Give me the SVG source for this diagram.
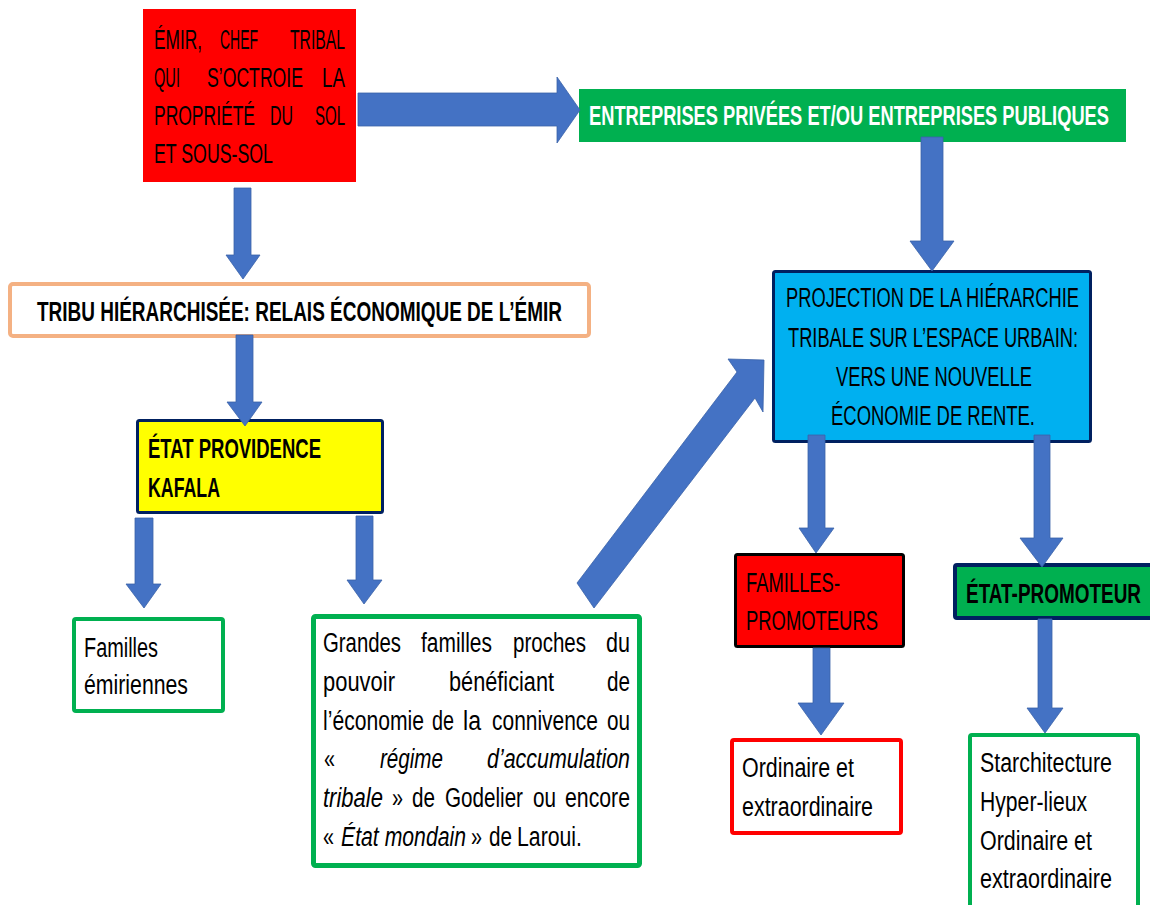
<svg xmlns="http://www.w3.org/2000/svg" width="1150" height="905" viewBox="0 0 1150 905">
<style>
text{font-family:"Liberation Sans",Arial,sans-serif;font-size:27px;fill:#000}
.b{font-weight:bold}
.w{fill:#fff}
.i{font-style:italic}
.arr{fill:#4472C4;stroke:#3A62A8;stroke-width:0.8}
</style>
<rect x="0" y="0" width="1150" height="905" fill="#fff"/>
<g id="emir">
<rect x="143" y="9" width="213" height="173" fill="#FF0000"/>
<text x="154" y="49" textLength="48" lengthAdjust="spacingAndGlyphs">ÉMIR,</text>
<text x="220" y="49" textLength="38" lengthAdjust="spacingAndGlyphs">CHEF</text>
<text x="290" y="49" textLength="55" lengthAdjust="spacingAndGlyphs">TRIBAL</text>
<text x="154" y="87" textLength="26" lengthAdjust="spacingAndGlyphs">QUI</text>
<text x="207" y="87" textLength="96" lengthAdjust="spacingAndGlyphs">S’OCTROIE</text>
<text x="322" y="87" textLength="23" lengthAdjust="spacingAndGlyphs">LA</text>
<text x="154" y="125" textLength="101" lengthAdjust="spacingAndGlyphs">PROPRIÉTÉ</text>
<text x="270" y="125" textLength="23" lengthAdjust="spacingAndGlyphs">DU</text>
<text x="315" y="125" textLength="30" lengthAdjust="spacingAndGlyphs">SOL</text>
<text x="154" y="163" textLength="119" lengthAdjust="spacingAndGlyphs">ET SOUS-SOL</text>
</g>
<g id="entreprises">
<rect x="579" y="89" width="547" height="53" fill="#00B050"/>
<text class="b w" x="589" y="125" textLength="520" lengthAdjust="spacingAndGlyphs">ENTREPRISES PRIVÉES ET/OU ENTREPRISES PUBLIQUES</text>
</g>
<g id="tribu">
<rect x="10" y="284" width="579" height="52" rx="3" fill="#fff" stroke="#F4B183" stroke-width="4"/>
<text class="b" x="37" y="321" textLength="525" lengthAdjust="spacingAndGlyphs">TRIBU HIÉRARCHISÉE: RELAIS ÉCONOMIQUE DE L’ÉMIR</text>
</g>
<g id="etat-providence">
<rect x="137.5" y="420.5" width="245" height="92" rx="2" fill="#FFFF00" stroke="#002060" stroke-width="3"/>
<text class="b" x="148" y="458" textLength="173" lengthAdjust="spacingAndGlyphs">ÉTAT PROVIDENCE</text>
<text class="b" x="148" y="497" textLength="72" lengthAdjust="spacingAndGlyphs">KAFALA</text>
</g>
<g id="projection">
<rect x="773.5" y="271.5" width="317" height="170" rx="2" fill="#00B0F0" stroke="#002060" stroke-width="3"/>
<text x="786" y="307" textLength="293" lengthAdjust="spacingAndGlyphs">PROJECTION DE LA HIÉRARCHIE</text>
<text x="788" y="347" textLength="290" lengthAdjust="spacingAndGlyphs">TRIBALE SUR L’ESPACE URBAIN:</text>
<text x="836" y="386" textLength="196" lengthAdjust="spacingAndGlyphs">VERS UNE NOUVELLE</text>
<text x="831" y="425" textLength="204" lengthAdjust="spacingAndGlyphs">ÉCONOMIE DE RENTE.</text>
</g>
<g id="familles-emiriennes">
<rect x="74" y="619" width="149" height="92" rx="2" fill="#fff" stroke="#00B050" stroke-width="4"/>
<text x="84" y="657" textLength="74" lengthAdjust="spacingAndGlyphs">Familles</text>
<text x="84" y="694" textLength="104" lengthAdjust="spacingAndGlyphs">émiriennes</text>
</g>
<g id="grandes-familles">
<rect x="313.5" y="616.5" width="326" height="249" rx="2" fill="#fff" stroke="#00B050" stroke-width="5"/>
<text x="323" y="652" textLength="78" lengthAdjust="spacingAndGlyphs">Grandes</text>
<text x="421" y="652" textLength="71" lengthAdjust="spacingAndGlyphs">familles</text>
<text x="513" y="652" textLength="73" lengthAdjust="spacingAndGlyphs">proches</text>
<text x="606" y="652" textLength="24" lengthAdjust="spacingAndGlyphs">du</text>
<text x="323" y="691" textLength="72" lengthAdjust="spacingAndGlyphs">pouvoir</text>
<text x="449" y="691" textLength="105" lengthAdjust="spacingAndGlyphs">bénéficiant</text>
<text x="607" y="691" textLength="23" lengthAdjust="spacingAndGlyphs">de</text>
<text x="323" y="730" textLength="101" lengthAdjust="spacingAndGlyphs">l’économie</text>
<text x="432" y="730" textLength="22" lengthAdjust="spacingAndGlyphs">de</text>
<text x="463" y="730" textLength="18" lengthAdjust="spacingAndGlyphs">la</text>
<text x="492" y="730" textLength="106" lengthAdjust="spacingAndGlyphs">connivence</text>
<text x="607" y="730" textLength="23" lengthAdjust="spacingAndGlyphs">ou</text>
<text x="324" y="768" textLength="11" lengthAdjust="spacingAndGlyphs">«</text>
<text class="i" x="380" y="768" textLength="63" lengthAdjust="spacingAndGlyphs">régime</text>
<text class="i" x="487" y="768" textLength="143" lengthAdjust="spacingAndGlyphs">d’accumulation</text>
<text class="i" x="323" y="807" textLength="60" lengthAdjust="spacingAndGlyphs">tribale</text>
<text x="392" y="807" textLength="11" lengthAdjust="spacingAndGlyphs">»</text>
<text x="412" y="807" textLength="23" lengthAdjust="spacingAndGlyphs">de</text>
<text x="445" y="807" textLength="78" lengthAdjust="spacingAndGlyphs">Godelier</text>
<text x="533" y="807" textLength="23" lengthAdjust="spacingAndGlyphs">ou</text>
<text x="565" y="807" textLength="65" lengthAdjust="spacingAndGlyphs">encore</text>
<text x="323" y="846" textLength="11" lengthAdjust="spacingAndGlyphs">«</text>
<text class="i" x="341" y="846" textLength="125" lengthAdjust="spacingAndGlyphs">État mondain</text>
<text x="471" y="846" textLength="11" lengthAdjust="spacingAndGlyphs">»</text>
<text x="489" y="846" textLength="23" lengthAdjust="spacingAndGlyphs">de</text>
<text x="517" y="846" textLength="65" lengthAdjust="spacingAndGlyphs">Laroui.</text>
</g>
<g id="familles-promoteurs">
<rect x="735.5" y="554.5" width="168" height="92" rx="2" fill="#FF0000" stroke="#000" stroke-width="3"/>
<text x="746" y="592" textLength="94" lengthAdjust="spacingAndGlyphs">FAMILLES-</text>
<text x="746" y="630" textLength="132" lengthAdjust="spacingAndGlyphs">PROMOTEURS</text>
</g>
<g id="ordinaire">
<rect x="732" y="740" width="169" height="93" rx="2" fill="#fff" stroke="#FF0000" stroke-width="4"/>
<text x="742" y="777" textLength="112" lengthAdjust="spacingAndGlyphs">Ordinaire et</text>
<text x="742" y="816" textLength="131" lengthAdjust="spacingAndGlyphs">extraordinaire</text>
</g>
<g id="etat-promoteur">
<rect x="955" y="565" width="205" height="53" rx="2" fill="#00B050" stroke="#002060" stroke-width="4"/>
<text class="b" x="966" y="603" textLength="175" lengthAdjust="spacingAndGlyphs">ÉTAT-PROMOTEUR</text>
</g>
<g id="starchitecture">
<rect x="970" y="735" width="168" height="190" rx="2" fill="#fff" stroke="#00B050" stroke-width="4"/>
<text x="980" y="772" textLength="132" lengthAdjust="spacingAndGlyphs">Starchitecture</text>
<text x="980" y="811" textLength="107" lengthAdjust="spacingAndGlyphs">Hyper-lieux</text>
<text x="980" y="850" textLength="112" lengthAdjust="spacingAndGlyphs">Ordinaire et</text>
<text x="980" y="888" textLength="132" lengthAdjust="spacingAndGlyphs">extraordinaire</text>
</g>
<g id="connectors">
<polygon class="arr" points="234,188 251,188 251,255 260,255 243,279 226,255 234,255"/>
<polygon class="arr" points="236,335 253,335 253,402 262,402 245,426 227,402 236,402"/>
<polygon class="arr" points="135,518 153,518 153,584 161,584 144,608 126,584 135,584"/>
<polygon class="arr" points="356,516 373,516 373,580 382,580 364,604 347,580 356,580"/>
<polygon class="arr" points="358,93 557,93 557,77 580,110 557,143 557,126 358,126"/>
<polygon class="arr" points="921,137 943,137 943,241 954,241 932,271 910,241 921,241"/>
<polygon class="arr" points="577,583 737,372 728,359 764,360 763,412 755,398 594,608"/>
<polygon class="arr" points="808,435 825,435 825,528 834,528 816,553 799,528 808,528"/>
<polygon class="arr" points="1034,435 1050,435 1050,538 1063,538 1042,567 1020,538 1034,538"/>
<polygon class="arr" points="813,648 830,648 830,703 844,703 821,735 798,703 813,703"/>
<polygon class="arr" points="1038,619 1052,619 1052,708 1063,708 1045,733 1027,708 1038,708"/>
</g>
</svg>
